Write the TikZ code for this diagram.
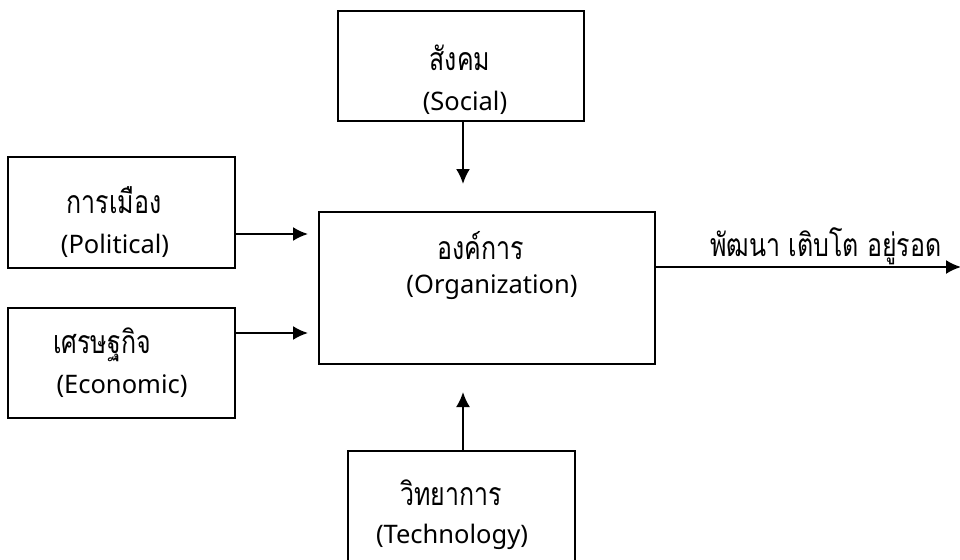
\documentclass[tikz,border=0pt]{standalone}
\usepackage{fontspec}
\setmainfont{Noto Sans}
\newfontfamily\thai[Script=Thai,FakeStretch=0.78]{Loma}
\usetikzlibrary{arrows.meta}
\begin{document}
\begin{tikzpicture}[x=1pt,y=-1pt,
  box/.style={draw,line width=1.5pt,inner sep=0pt},
  lbl/.style={inner sep=0pt,font=\fontsize{25.5}{30}\selectfont},
  tlbl/.style={inner sep=0pt,font=\fontsize{32}{36}\thai},
  arr/.style={line width=2pt,-{Latex[length=15pt,width=14pt]}}]
\useasboundingbox (0,0) rectangle (960,559);
\fill[white] (0,0) rectangle (960,559);
% boxes
\node[box,minimum width=246pt,minimum height=110pt] (soc) at (461,66) {};
\node[box,minimum width=227pt,minimum height=111pt] (pol) at (121.5,212.5) {};
\node[box,minimum width=227pt,minimum height=110pt] (eco) at (121.5,363) {};
\node[box,minimum width=336pt,minimum height=152pt] (org) at (487,288) {};
\node[box,minimum width=227pt,minimum height=116pt] (tech) at (461.5,509) {};
% texts
\node[tlbl] (t1) at (460,58) {สังคม};
\node[lbl] (t2) at (465,103) {(Social)};
\node[tlbl] (t3) at (114,200) {การเมือง};
\node[lbl] (t4) at (115,246) {(Political)};
\node[tlbl] (t5) at (102,345) {เศรษฐกิจ};
\node[lbl] (t6) at (122,386) {(Economic)};
\node[tlbl] (t7) at (481,246) {องค์การ};
\node[lbl] (t8) at (492,287) {(Organization)};
\node[tlbl] (t9) at (451,493) {วิทยาการ};
\node[lbl] (t10) at (452,537) {(Technology)};
% coordinates
\coordinate (socend) at (463,184);
\coordinate (polend) at (308,234);
\coordinate (ecoend) at (308,333);
\coordinate (techend) at (463,392);
\coordinate (outend) at (961,267);
% arrows
\draw[arr] (soc.south -| socend) -- (socend);
\draw[arr] (pol.east |- polend) -- (polend);
\draw[arr] (eco.east |- ecoend) -- (ecoend);
\draw[arr] (tech.north -| techend) -- (techend);
\draw[arr] (org.east |- outend) -- (outend)
  node[tlbl,pos=0.557,above=1.5pt] (t11) {พัฒนา เติบโต อยู่รอด};
\end{tikzpicture}
\end{document}
